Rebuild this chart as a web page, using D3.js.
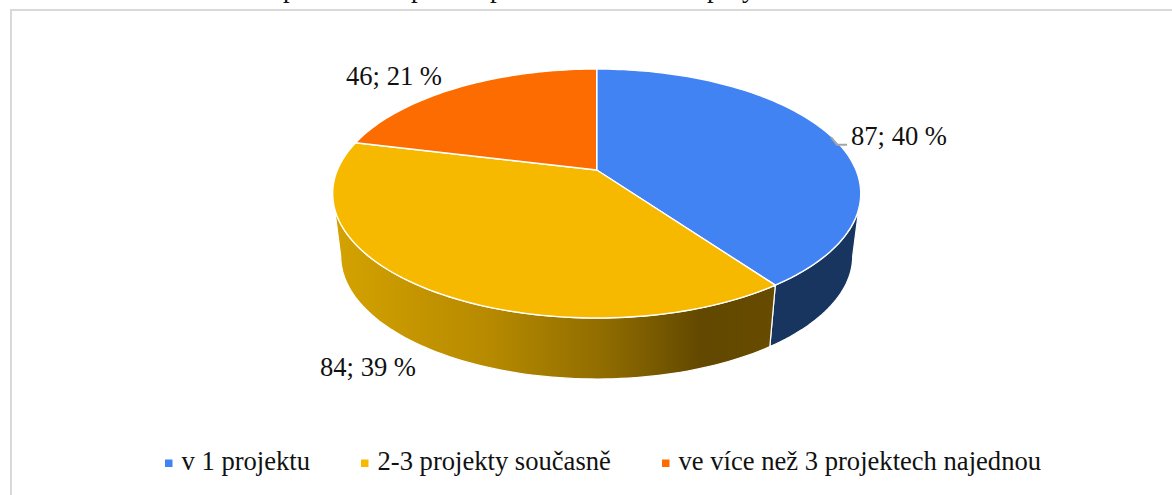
<!DOCTYPE html>
<html lang="cs">
<head>
<meta charset="utf-8">
<title>Graf</title>
<script src="https://cdn.jsdelivr.net/npm/d3@7/dist/d3.min.js"></script>
<style>
    html, body { margin: 0; padding: 0; background: #fff; overflow: hidden; }
    svg { display: block; }
    text { font-family: "Liberation Serif", serif; fill: #111; }
</style>
</head>
<body>
<svg id="chart" width="1172" height="495"></svg>
<script>
const categories = ["v 1 projektu", "2-3 projekty současně", "ve více než 3 projektech najednou"];
const values = [87, 84, 46];
const sliceColors = ["#4183F3", "#F7B900", "#FD6C00"];
const wallColors = ["#18355F", "url(#yellow-wall)", "#994100"];
// the chart title is cut off by the page edge, only these letter tails show
const titleTails = ["p", "p", "p", "p", "y"];

const svg = d3.select("#chart");

// top face of the 3D pie, a circle seen in perspective
const pieTop = { cx: 596.7, cy: 170, a: 259.3, b: 120.06, k: 0.1888 };
// bottom face sits lower and looks a bit narrower
const pieBottom = { cx: 596.7, cy: 232.8, a: 251.4, b: 118.6, k: 0.1888 };

function project(face, angle) {
    const X = Math.sin(angle);
    const Y = Math.cos(angle);
    const w = 1 + face.k * Y;
    return [face.cx + face.a * X / w, face.cy - face.b * Y / w];
}

function arcPoints(face, start, end) {
    const n = Math.max(2, Math.ceil((end - start) * 40));
    return d3.range(n + 1).map(i => project(face, start + (end - start) * i / n));
}

const line = d3.line();
const color = d3.scaleOrdinal().domain(categories).range(sliceColors);
const wallColor = d3.scaleOrdinal().domain(categories).range(wallColors);
const total = d3.sum(values);
const percent = d3.format(".0f");

const arcs = d3.pie().sort(null).value((d, i) => values[i])(categories);

// The wall is only seen between the two points where the rim turns back
const wallFrom = Math.acos(-pieTop.k);
const wallTo = 2 * Math.PI - wallFrom;

// Frame, open on the right and bottom
svg.append("path")
    .attr("d", "M11,495V10H1172")
    .attr("fill", "none")
    .attr("stroke", "#D9D9D9")
    .attr("stroke-width", 2);

// Title tails
svg.append("g").selectAll("text")
    .data(titleTails)
    .enter()
    .append("text")
    .attr("x", (d, i) => [283, 411, 490, 707, 742][i])
    .attr("y", -3)
    .style("font-size", "27px")
    .text(d => d);

const defs = svg.append("defs");
const grad = defs.append("linearGradient")
    .attr("id", "yellow-wall")
    .attr("gradientUnits", "userSpaceOnUse")
    .attr("x1", 334).attr("x2", 772).attr("y1", 0).attr("y2", 0);
grad.selectAll("stop")
    .data([[0, "#D4A200"], [0.35, "#B78A00"], [0.62, "#8F6C00"], [0.84, "#624800"], [1, "#664B00"]])
    .enter()
    .append("stop")
    .attr("offset", d => d[0])
    .attr("stop-color", d => d[1]);

// Walls first, the top face is painted over the seam
svg.append("g").selectAll("path")
    .data(arcs.filter(d => d.startAngle < wallTo && d.endAngle > wallFrom))
    .enter()
    .append("path")
    .attr("d", d => {
        const start = Math.max(d.startAngle, wallFrom);
        const end = Math.min(d.endAngle, wallTo);
        return line(arcPoints(pieTop, start, end)
            .concat(arcPoints(pieBottom, start, end).reverse())) + "Z";
    })
    .attr("fill", d => wallColor(d.data))
    .attr("stroke", "#fff")
    .attr("stroke-width", 1.2)
    .attr("stroke-linejoin", "round");

// Top faces
svg.append("g").selectAll("path")
    .data(arcs)
    .enter()
    .append("path")
    .attr("d", d => line([[pieTop.cx, pieTop.cy]]
        .concat(arcPoints(pieTop, d.startAngle, d.endAngle))) + "Z")
    .attr("fill", d => color(d.data))
    .attr("stroke", "#fff")
    .attr("stroke-width", 1.4)
    .attr("stroke-linejoin", "round");

// Leader line of the first label
const mid = project(pieTop, (arcs[0].startAngle + arcs[0].endAngle) / 2);
svg.append("path")
    .attr("d", line([[mid[0] + 1, mid[1] + 2], [mid[0] + 7, mid[1] + 9.5], [mid[0] + 17, mid[1] + 9.5]]))
    .attr("fill", "none")
    .attr("stroke", "#A6A6A6")
    .attr("stroke-width", 2);

// Data labels
const labelPlace = [[851, 145], [320, 376], [346, 85]];
svg.append("g").selectAll("text")
    .data(values)
    .enter()
    .append("text")
    .attr("x", (d, i) => labelPlace[i][0])
    .attr("y", (d, i) => labelPlace[i][1])
    .style("font-size", "26.6px")
    .text(d => `${d}; ${percent(d / total * 100)} %`);

// Legend
const legendX = [165, 361, 662];
const legend = svg.append("g").selectAll("g")
    .data(categories)
    .enter()
    .append("g")
    .attr("transform", (d, i) => `translate(${legendX[i]},0)`);

legend.append("rect")
    .attr("y", 459.5)
    .attr("width", 7.5)
    .attr("height", 7.5)
    .attr("fill", d => color(d));

legend.append("text")
    .attr("x", 16.5)
    .attr("y", 470)
    .style("font-size", "26.6px")
    .text(d => d);
</script>
</body>
</html>
